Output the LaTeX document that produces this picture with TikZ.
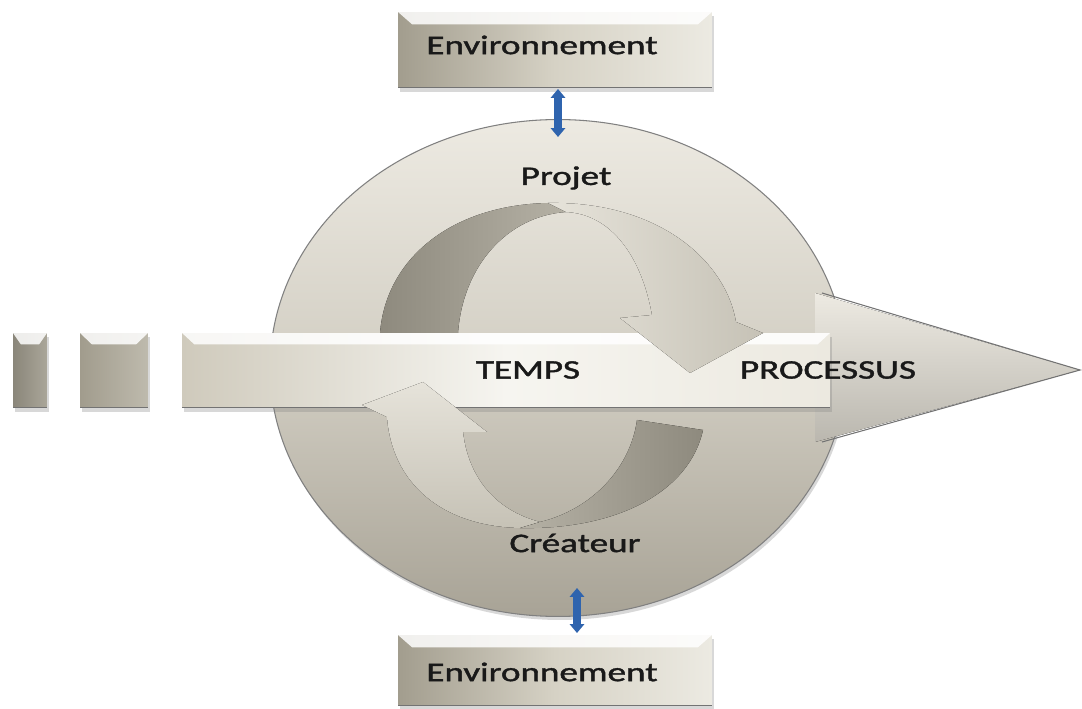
\documentclass[tikz,border=0pt]{standalone}
\usepackage{fontspec}
\usepackage{graphicx}
\setmainfont{Carlito}
\newfontface\lblfont{Carlito}[FakeBold=1.3]
\usetikzlibrary{shapes.geometric,arrows.meta,shadows,calc}
\definecolor{boxdark}{HTML}{A29D8E}
\definecolor{boxmid}{HTML}{D6D2C5}
\definecolor{boxlight}{HTML}{ECEAE2}
\definecolor{smalldark}{HTML}{8A867A}
\definecolor{smalllight}{HTML}{AAA699}
\definecolor{midboxdark}{HTML}{A19C8D}
\definecolor{midboxlight}{HTML}{BEBAAD}
\definecolor{barleft}{HTML}{CFCABC}
\definecolor{barmid}{HTML}{F6F5F0}
\definecolor{barright}{HTML}{ECE9E0}
\definecolor{circtop}{HTML}{EDEAE2}
\definecolor{circmid}{HTML}{D2CEC3}
\definecolor{circbot}{HTML}{A8A396}
\definecolor{backdark}{HTML}{8E8A7E}
\definecolor{backmid}{HTML}{B5B1A5}
\definecolor{frontlight}{HTML}{E6E3DA}
\definecolor{frontmid}{HTML}{C6C2B6}
\definecolor{linkblue}{HTML}{2F64AE}
\newcommand{\stretchtxt}[1]{\scalebox{1.38}[1]{#1}}
\begin{document}
\begin{tikzpicture}[x=0.02cm,y=-0.02cm,
  lbl/.style={font=\lblfont\fontsize{15.3}{18}\selectfont, text=black!90, inner sep=0pt},
  bevel/.style 2 args={path picture={
    \fill[white,opacity=0.85] (path picture bounding box.north west) -- (path picture bounding box.north east)
      -- ([xshift=-#1,yshift=-#2]path picture bounding box.north east)
      -- ([xshift=#1,yshift=-#2]path picture bounding box.north west) -- cycle;
    \draw[black!55, line width=1.4pt] (path picture bounding box.south west) -- (path picture bounding box.south east);}},
  softshadow/.style={drop shadow={opacity=0.3, shadow xshift=1pt, shadow yshift=-2pt}},
  envbox/.style={rectangle, inner sep=0pt, minimum width=6.28cm, left color=boxdark, right color=boxlight, middle color=boxmid, bevel={8pt}{7pt}, softshadow},
  tinybox/.style={rectangle, inner sep=0pt, left color=#1dark, right color=#1light, softshadow},
  bluelink/.style={linkblue, line width=4pt, {Triangle[width=8pt,length=5pt]}-{Triangle[width=8pt,length=5pt]}},
  backface/.style={left color=backdark, right color=backmid},
  frontface/.style={top color=frontlight, bottom color=frontmid}
]
\useasboundingbox (0,0) rectangle (1082,709);
\fill[white] (0,0) rectangle (1082,709);

% circle
\node[ellipse, minimum width=11.52cm, minimum height=9.94cm, draw=black!50, line width=0.6pt,
      top color=circtop, bottom color=circbot, middle color=circmid, softshadow] (circ) at (558,368) {};

% arrow head of the process arrow
\fill[top color=circtop, bottom color=circmid!85!black!90] (815,293) -- (1080,370) -- (815,442) -- cycle;
\draw[black!55, line width=0.6pt] (822,293) -- (1080,370) -- (822,442);

% time bar and preceding blocks
\node[rectangle, inner sep=0pt, minimum width=12.96cm, minimum height=1.5cm,
      left color=barleft, right color=barright, middle color=barmid, bevel={7pt}{6.5pt}, softshadow] (bar) at (506,370.5) {};
\node[tinybox=small, minimum width=0.68cm, minimum height=1.5cm, bevel={4.5pt}{6.5pt}] (b1) at (30,370.5) {};
\node[tinybox=midbox, minimum width=1.36cm, minimum height=1.5cm, bevel={6.8pt}{6.5pt}] (b2) at (114,370.5) {};

% top circular arrow: back face (left) and front face with head (right)
\fill[backface]
  (380,333) .. controls (386,258) and (452,205) .. (548,203)
  -- (566,212) .. controls (508,216) and (463,265) .. (458,333) -- cycle;
\fill[left color=frontlight, right color=frontmid]
  (548,203) .. controls (660,201) and (726,262) .. (736,322)
  -- (763,333) -- (690,373) -- (620,318) -- (652,315)
  .. controls (642,258) and (612,214) .. (566,212) -- cycle;

% bottom circular arrow: front face with head (left) and back face (right)
\fill[frontface]
  (387,417) .. controls (392,482) and (440,526) .. (520,528)
  -- (540,522) .. controls (494,510) and (468,476) .. (463,432)
  -- (487,432) -- (423,382) -- (362,405) -- cycle;
\fill[left color=backmid, right color=backdark]
  (520,528) .. controls (620,530) and (690,490) .. (703,430)
  -- (637,420) .. controls (630,470) and (590,510) .. (540,522) -- cycle;

% environment boxes
\node[envbox, minimum height=1.52cm] (envtop) at (555,50) {};
\node[lbl] (envtoptxt) at (542,45) {\stretchtxt{Environnement}};
\node[envbox, minimum height=1.42cm] (envbot) at (555,670.5) {};
\node[lbl] (envbottxt) at (542,672) {\stretchtxt{Environnement}};

% labels
\node[lbl] (projet) at (566,178) {\stretchtxt{Projet}};
\node[lbl] (createur) at (575,543) {\stretchtxt{Créateur}};
\node[lbl] (temps) at (528,370) {\stretchtxt{TEMPS}};
\node[lbl] (processus) at (828,370) {\stretchtxt{PROCESSUS}};

% links to the environment
\coordinate (ta) at (558,89);
\coordinate (tb) at (558,137);
\coordinate (ba) at (577,588);
\coordinate (bb) at (577,633);
\draw[bluelink] (ta) -- (tb);
\draw[bluelink] (ba) -- (bb);
\end{tikzpicture}
\end{document}
